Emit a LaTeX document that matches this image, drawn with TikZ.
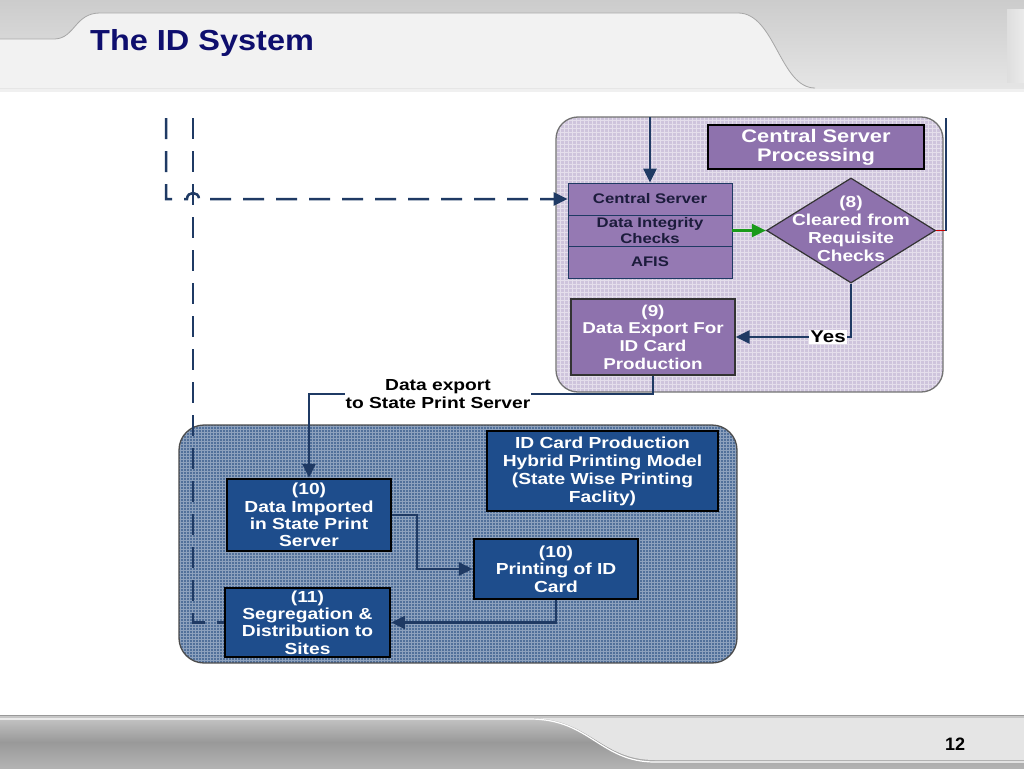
\documentclass[tikz,border=0pt]{standalone}
\usepackage{fontspec}
\setmainfont{Liberation Sans}
\newfontfamily\widesans[FakeStretch=1.2]{Liberation Sans}
\newfontfamily\titlesans[FakeStretch=1.12]{Liberation Sans}
\usetikzlibrary{arrows.meta,shapes.geometric,calc}
\definecolor{navy}{HTML}{1F3A64}
\definecolor{titleblue}{HTML}{0E0E6E}
\definecolor{lav}{HTML}{CEC4DC}
\definecolor{purp}{HTML}{8E72AD}
\definecolor{stackp}{HTML}{9579B3}
\definecolor{stacktxt}{HTML}{1C1C3C}
\definecolor{bpanel}{HTML}{51709A}
\definecolor{bbox}{HTML}{1E4D8C}
\definecolor{gline}{HTML}{1A9A1A}
\begin{document}
\begin{tikzpicture}[x=1pt,y=-1pt,
  conn/.style={draw=navy,line width=2.5pt},
  tip/.style={-{Triangle[length=14pt,width=13pt]}},
  arr/.style={conn,tip},
  dashconn/.style={conn,dash pattern=on 21pt off 12pt},
  stackbox/.style={draw=navy,line width=0.8pt,fill=stackp,text=stacktxt,
    minimum width=164pt,inner sep=0pt,align=center,
    font=\widesans\bfseries\fontsize{13.9}{16}\selectfont},
  pbox/.style={draw=black!80,line width=1.4pt,fill=purp,text=white,
    inner sep=0pt,align=center,font=\widesans\bfseries\fontsize{15.7}{17.7}\selectfont},
  bluebox/.style={draw=black,line width=2.4pt,fill=bbox,text=white,
    inner sep=0pt,align=center,font=\widesans\bfseries\fontsize{16}{17.4}\selectfont}
]
\useasboundingbox (0,0) rectangle (1024,768);
\fill[white] (0,0) rectangle (1024,768);
% ---------- header ----------
\fill[top color=black!20,bottom color=black!10] (0,0) rectangle (1024,90);
\fill[black!5] (0,39) -- (55,39) .. controls (75,38) and (75,13) .. (100,13)
  -- (738,13) .. controls (775,13) and (780,88) .. (815,88) -- (0,88) -- cycle;
\draw[black!35,line width=0.8pt] (0,39) -- (55,39) .. controls (75,38) and (75,13) .. (100,13)
  -- (738,13) .. controls (775,13) and (780,88) .. (815,88);
\fill[left color=black!13,right color=black!8] (1007,10) rectangle (1024,82);
\fill[black!6] (0,89) rectangle (1024,92);
\node[text=titleblue,font=\titlesans\bfseries\fontsize{29}{32}\selectfont,anchor=west,inner sep=0pt] (title) at (90,43) {The ID System};
% ---------- footer ----------
\fill[top color=black!22,bottom color=black!30,middle color=black!40] (0,716) rectangle (1024,768);
\fill[black!10] (530,718) .. controls (590,718) and (600,760) .. (655,760) -- (1024,760) -- (1024,718) -- cycle;
\draw[white,line width=1.2pt] (0,719) -- (530,719) .. controls (590,719) and (600,762) .. (655,762) -- (1024,762);
\draw[black!40,line width=0.8pt] (0,715.5) -- (1024,715.5);
\node[font=\bfseries\fontsize{18}{20}\selectfont] (pg) at (955,744) {12};
% ---------- purple panel ----------
\begin{scope}
\path[clip,rounded corners=22pt] (556,117) rectangle (943,392);
\fill[lav] (556,117) rectangle (943,392);
\draw[white,opacity=0.45,line width=0.5pt,step=4pt] (556,117) grid (944,393);
\end{scope}
\draw[black!55,line width=1.3pt,rounded corners=22pt] (556,117) rectangle (943,392);
% ---------- blue panel ----------
\begin{scope}
\path[clip,rounded corners=25pt] (179,425) rectangle (737,663);
\fill[bpanel] (179,425) rectangle (737,663);
\draw[white,opacity=0.35,line width=0.5pt,step=3pt] (179,425) grid (738,664);
\end{scope}
\draw[black!70,line width=1.3pt,rounded corners=25pt] (179,425) rectangle (737,663);
% ---------- nodes ----------
\node[pbox,draw=black,line width=2.5pt,minimum width=216pt,minimum height=44pt,
  font=\widesans\bfseries\fontsize{18.2}{19}\selectfont] (csp) at (816,147) {Central Server\\Processing};
\node[stackbox,minimum height=32pt] (cs) at (650,199) {Central Server};
\node[stackbox,minimum height=31pt] (dic) at (650,230.5) {Data Integrity\\Checks};
\node[stackbox,minimum height=32pt] (afis) at (650,262) {AFIS};
\node[diamond,draw=black!80,line width=1.2pt,fill=purp,minimum width=169pt,minimum height=105pt,inner sep=0pt] (d8) at (851,230.5) {};
\node[text=white,align=center,inner sep=0pt,font=\widesans\bfseries\fontsize{15.9}{18}\selectfont] (d8t) at (851,229) {(8)\\Cleared from\\Requisite\\Checks};
\node[pbox,minimum width=164pt,minimum height=76pt] (b9) at (653,337) {(9)\\Data Export For\\ID Card\\Production};
\node[bluebox,minimum width=231pt,minimum height=80pt,font=\widesans\bfseries\fontsize{16}{18}\selectfont] (idc) at (602.5,471)
  {ID Card Production\\Hybrid Printing Model\\(State Wise Printing\\Faclity)};
\node[bluebox,minimum width=164pt,minimum height=72pt] (b10a) at (309,515) {(10)\\Data Imported\\in State Print\\Server};
\node[bluebox,minimum width=164pt,minimum height=60pt] (b10b) at (556,569) {(10)\\Printing of ID\\Card};
\node[bluebox,minimum width=165pt,minimum height=69pt] (b11) at (307.5,622.5) {(11)\\Segregation \&\\Distribution to\\Sites};
% ---------- coordinates ----------
\coordinate (topin) at (650,117);
\coordinate (dl1) at (166,118);
\coordinate (dl2) at (193,118);
\coordinate (rtop) at (946,118);
\coordinate (rmid) at (946,230.5);
% ---------- connectors ----------
\draw[arr] (topin) -- (cs.north);
\draw[dashconn,tip] (dl1) -- (166,199) -- (187,199)
   .. controls (187,191) and (199,191) .. (199,199) -- (cs.west);
\draw[dashconn] (dl2) -- (193,622.5) -- (b11.west);
\draw[draw=gline,line width=2.5pt,tip] (dic.east) -- (d8.west);
\draw[red!80!black,line width=1.5pt] (d8.east) -- (rmid);
\draw[conn] (rmid) -- (rtop);
\draw[arr] (d8.south) |- (b9.east);
\node[fill=white,inner sep=1pt,font=\widesans\bfseries\fontsize{17}{20}\selectfont] (yes) at (828,337) {Yes};
\draw[arr] (b9.south) -- (653,394) -| (b10a.north);
\node[fill=white,inner sep=1pt,align=center,font=\widesans\bfseries\fontsize{16}{18}\selectfont] (dexp) at (438,394) {Data export\\to State Print Server};
\draw[arr] (b10a.east) -- ++(25,0) |- (b10b.west);
\draw[arr] (b10b.south) |- (b11.east);
\end{tikzpicture}
\end{document}
